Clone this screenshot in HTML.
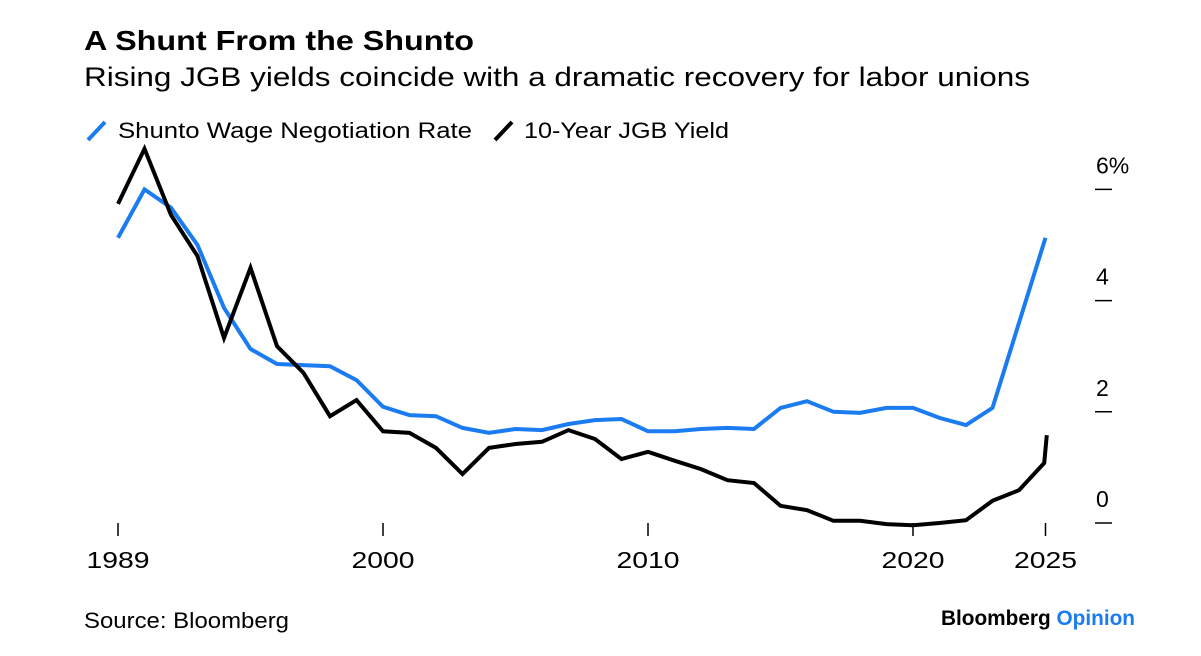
<!DOCTYPE html>
<html><head><meta charset="utf-8"><style>
body{margin:0;background:#fff;font-family:"Liberation Sans",sans-serif;}
svg text{font-family:"Liberation Sans",sans-serif;}
</style></head><body>
<svg id="chart" width="1201" height="651" xmlns="http://www.w3.org/2000/svg">
<rect width="1201" height="651" fill="#fff"/>
<text x="84" y="50" font-size="28" font-weight="bold" fill="#000" textLength="390" lengthAdjust="spacingAndGlyphs">A Shunt From the Shunto</text>
<text x="84" y="86" font-size="27" fill="#000" textLength="946" lengthAdjust="spacingAndGlyphs">Rising JGB yields coincide with a dramatic recovery for labor unions</text>
<g>
<line x1="88" y1="140" x2="105" y2="122" stroke="#1a7cf0" stroke-width="4"/>
<text x="118" y="138" font-size="22" textLength="354" lengthAdjust="spacingAndGlyphs">Shunto Wage Negotiation Rate</text>
<line x1="495" y1="140" x2="512" y2="122" stroke="#000" stroke-width="4"/>
<text x="524" y="138" font-size="22" textLength="205" lengthAdjust="spacingAndGlyphs">10-Year JGB Yield</text>
</g>
<g id="axes"></g>
<g id="series"></g>
<text x="84" y="628" font-size="22" textLength="205" lengthAdjust="spacingAndGlyphs">Source: Bloomberg</text>
<text x="941" y="625" font-size="21" font-weight="bold" textLength="194" lengthAdjust="spacingAndGlyphs"><tspan fill="#000">Bloomberg</tspan><tspan fill="#1a7cf0"> Opinion</tspan></text>
</svg>
<script>
const years=[];for(let y=1990;y<=2025;y++)years.push(y);
const shunto=[5.13,6.0,5.67,5.0,3.87,3.13,2.86,2.84,2.82,2.57,2.09,1.94,1.92,1.71,1.62,1.69,1.67,1.78,1.85,1.87,1.65,1.65,1.69,1.71,1.69,2.07,2.19,2.0,1.98,2.07,2.07,1.89,1.76,2.07,3.6,5.13];
const jgbYears=years.slice(0,35).concat([2024.95,2025.05]);
const jgb=[5.74,6.73,5.54,4.8,3.33,4.59,3.18,2.7,1.92,2.21,1.65,1.62,1.35,0.88,1.35,1.42,1.46,1.67,1.51,1.15,1.28,1.12,0.97,0.77,0.72,0.31,0.23,0.04,0.04,-0.02,-0.04,0.0,0.05,0.4,0.59,1.08,1.58];
const yTicks=[0,2,4,6];
const yTickLabels=["0","2","4","6%"];
const xTickYears=[1990,2000,2010,2020,2025];
const xTickLabels=["1989","2000","2010","2020","2025"];
const NS="http://www.w3.org/2000/svg";
const xs=y=>118+(y-1990)*26.5;
const ys=v=>523-55.6*v;
const axes=document.getElementById('axes'),series=document.getElementById('series');
function mk(t,a,p){const e=document.createElementNS(NS,t);for(const k in a)e.setAttribute(k,a[k]);p.appendChild(e);return e;}
yTicks.forEach((v,i)=>{
 const l=mk('line',{x1:1095,x2:1112,y1:ys(v),y2:ys(v),stroke:'#000','stroke-width':1.5},axes);
 
 
 const t=mk('text',{x:1096,y:ys(v)-16,'font-size':23},axes);t.textContent=yTickLabels[i];
 
 
});
xTickYears.forEach((y,i)=>{
 const l=mk('line',{x1:xs(y),x2:xs(y),y1:523,y2:536,stroke:'#000','stroke-width':1.5},axes);
 
 
 const t=mk('text',{x:xs(y),y:568,'font-size':23,'text-anchor':'middle',textLength:63,lengthAdjust:'spacingAndGlyphs'},axes);t.textContent=xTickLabels[i];
 
 
});
function line(xv,vals,color,name){
 const d=vals.map((v,i)=>(i?'L':'M')+xs(xv[i]).toFixed(1)+','+ys(v).toFixed(1)).join('');
 const p=mk('path',{d:d,fill:'none',stroke:color,'stroke-width':4,'stroke-linejoin':'miter'},series);
 
 
}
line(years,shunto,'#1a7cf0','shunto-line');
line(jgbYears,jgb,'#000','jgb-yield-line');
</script>
</body></html>
